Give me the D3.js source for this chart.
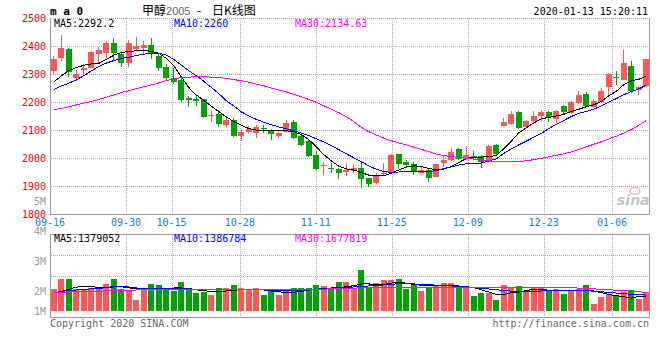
<!DOCTYPE html>
<html>
<head>
<meta charset="utf-8">
<style>
body { margin: 0; background: #fff; }
svg { display: block; }
text { font-family: "DejaVu Sans Mono", monospace; font-size: 10px; }
</style>
</head>
<body>
<svg id="chart" width="660" height="360"></svg>
<script src="https://cdn.jsdelivr.net/npm/d3@7"></script>
<script>
// trading days shown on the chart
const dates = [
  "09-16","09-17","09-18","09-19","09-20","09-23","09-24","09-25","09-26","09-27","09-30",
  "10-08","10-09","10-10","10-11","10-14","10-15","10-16","10-17","10-18","10-21","10-22","10-23","10-24","10-25","10-28","10-29","10-30","10-31",
  "11-01","11-04","11-05","11-06","11-07","11-08","11-11","11-12","11-13","11-14","11-15","11-18","11-19","11-20","11-21","11-22","11-25","11-26","11-27","11-28","11-29",
  "12-02","12-03","12-04","12-05","12-06","12-09","12-10","12-11","12-12","12-13","12-16","12-17","12-18","12-19","12-20","12-23","12-24","12-25","12-26","12-27","12-30","12-31",
  "01-02","01-03","01-06","01-07","01-08","01-09","01-10","01-13"
];

const open = [2312,2358,2391,2284,2313,2322,2373,2375,2409,2370,2338,2391,2393,2403,2366,2324,2286,2280,2213,2212,
  2209,2150,2158,2118,2135,2079,2094,2091,2108,2101,2078,2093,2129,2079,2059,2009,1972,1964,1960,1951,
  1955,1966,1927,1909,1942,1948,2013,1984,1977,1948,1957,1933,1982,1992,2031,1998,2008,2008,1984,2047,
  2116,2123,2163,2110,2131,2149,2163,2139,2185,2161,2196,2230,2182,2200,2252,2291,2279,2327,2244,2256];
const close = [2355,2393,2307,2301,2320,2379,2385,2409,2375,2340,2411,2399,2403,2370,2322,2286,2272,2206,2206,2205,
  2147,2154,2123,2135,2079,2094,2102,2109,2102,2085,2090,2126,2073,2047,2007,1960,1975,1962,1945,1958,
  1966,1925,1907,1941,1946,2010,1979,1976,1952,1956,1929,1977,1992,2023,1996,2010,2004,1984,2043,2014,
  2128,2158,2107,2131,2151,2163,2147,2167,2163,2199,2226,2185,2202,2240,2301,2286,2341,2238,2252,2354];
const high = [2363,2438,2393,2316,2336,2381,2396,2417,2429,2375,2423,2431,2417,2429,2372,2336,2322,2286,2221,2221,
  2212,2168,2173,2150,2144,2103,2115,2118,2118,2103,2099,2135,2135,2085,2064,2026,1984,1981,1966,1981,
  1978,1984,1930,1946,1983,2013,2016,1993,1985,1970,1960,1978,2008,2037,2037,2043,2026,2010,2047,2049,
  2143,2167,2167,2135,2167,2173,2167,2173,2190,2202,2241,2234,2211,2250,2303,2309,2386,2348,2258,2354];
const low = [2296,2348,2289,2275,2298,2320,2336,2358,2346,2324,2324,2384,2370,2352,2310,2277,2263,2201,2182,2184,
  2144,2130,2112,2111,2075,2059,2090,2073,2091,2064,2073,2091,2069,2043,2004,1957,1939,1945,1925,1937,
  1947,1894,1898,1906,1936,1944,1962,1965,1939,1945,1914,1931,1969,1990,1992,1996,1992,1966,1984,2010,
  2113,2119,2104,2106,2123,2131,2128,2125,2155,2158,2194,2182,2178,2196,2220,2262,2277,2232,2226,2253];

const ma5 = [2271,2293,2312,2323,2331,2336,2338,2352,2367,2377,2380,2383,2384,2381,2374,2356,2330,2290,2252,2225,2206,2185,2166,
  2147,2130,2117,2105,2100,2098,2097,2097,2097,2094,2084,2066,2040,2012,1990,1971,1961,1957,1948,1939,1937,1937,1946,1957,1968,1972,1970,1962,1959,
  1960,1970,1984,1998,2003,2003,2005,2009,2033,2060,2090,2108,2125,2140,2145,2150,2156,2166,2174,2183,2190,2202,2222,2238,2262,2276,2281,2292];
const ma10 = [2244,2257,2267,2279,2294,2311,2327,2339,2348,2355,2360,2366,2371,2374,2374,2368,2352,2332,2312,2294,2274,2252,2230,
  2205,2186,2165,2150,2138,2128,2119,2111,2104,2097,2089,2080,2069,2057,2044,2030,2015,2001,1987,1972,1960,1951,1949,1950,1951,1952,1953,1953,1954,
  1962,1968,1975,1979,1980,1982,1989,1997,2016,2032,2047,2060,2074,2088,2105,2120,2134,2148,2160,2166,2174,2186,2200,2212,2226,2237,2247,2260];
const ma30 = [2172,2177,2183,2190,2196,2202,2209,2217,2225,2234,2240,2248,2254,2261,2268,2276,2282,2287,2289,2290,2290,2289,2288,
  2284,2280,2276,2271,2264,2258,2250,2243,2236,2228,2219,2209,2199,2187,2174,2162,2148,2130,2110,2094,2082,2071,2062,2054,2047,2039,2031,2023,2014,2009,2005,2002,1999,1996,1992,1990,1988,
  1987,1986,1987,1990,1994,1999,2004,2009,2015,2022,2031,2040,2049,2058,2068,2078,2089,2101,2117,2134];

// volume, millions
const volume = [1.72,2.53,2.53,1.72,1.70,1.84,1.79,2.11,2.53,1.74,1.66,0.87,1.80,2.11,2.04,1.84,1.58,2.27,1.82,1.40,
  1.50,1.26,1.82,1.82,2.02,1.82,1.70,1.82,1.26,1.66,1.26,1.58,1.82,1.82,1.82,2.03,1.98,1.70,2.29,2.29,
  1.72,3.24,1.82,2.25,2.49,2.49,2.51,1.75,2.04,1.57,1.80,2.04,2.20,2.20,1.84,1.84,1.17,1.41,1.41,0.85,
  2.04,1.84,1.96,1.60,1.88,1.84,1.68,1.70,1.32,1.64,1.72,2.04,0.53,1.12,1.38,1.23,1.54,1.64,0.93,1.48];
const vma5 = [1.42,1.55,1.72,1.88,1.96,1.92,1.87,1.87,1.90,1.92,1.84,1.74,1.70,1.66,1.67,1.70,1.82,1.82,1.74,1.68,
  1.61,1.55,1.53,1.58,1.64,1.68,1.70,1.68,1.66,1.58,1.53,1.45,1.48,1.55,1.65,1.71,1.77,1.75,1.84,1.92,
  2.00,2.14,2.14,2.08,2.11,2.20,2.28,2.20,2.10,2.04,1.98,1.98,2.02,2.04,1.98,1.92,1.85,1.68,1.50,1.32,
  1.30,1.45,1.50,1.62,1.71,1.71,1.64,1.62,1.62,1.66,1.66,1.64,1.58,1.45,1.30,1.22,1.13,1.02,1.15,1.17];
const vma10 = [1.42,1.55,1.61,1.66,1.71,1.75,1.79,1.84,1.95,1.96,1.90,1.82,1.80,1.79,1.79,1.79,1.79,1.79,1.75,1.72,
  1.71,1.71,1.71,1.71,1.71,1.71,1.69,1.68,1.66,1.66,1.66,1.64,1.62,1.61,1.66,1.72,1.77,1.82,1.87,1.87,
  1.90,1.95,1.98,2.02,2.06,2.10,2.17,2.16,2.14,2.10,2.07,2.05,2.00,1.98,1.95,1.92,1.86,1.80,1.74,1.68,
  1.62,1.57,1.53,1.53,1.55,1.58,1.61,1.61,1.64,1.66,1.66,1.62,1.56,1.52,1.47,1.42,1.38,1.32,1.29,1.26];
const vma30 = [1.45,1.47,1.50,1.53,1.53,1.53,1.55,1.60,1.64,1.66,1.66,1.66,1.67,1.68,1.69,1.70,1.71,1.71,1.71,1.71,
  1.71,1.71,1.71,1.71,1.71,1.71,1.71,1.71,1.71,1.71,1.71,1.71,1.71,1.71,1.71,1.71,1.73,1.75,1.77,1.79,
  1.81,1.83,1.85,1.87,1.87,1.87,1.87,1.87,1.87,1.87,1.87,1.87,1.87,1.87,1.87,1.87,1.87,1.87,1.87,1.87,
  1.87,1.87,1.87,1.87,1.87,1.87,1.87,1.87,1.87,1.84,1.81,1.78,1.75,1.71,1.68,1.64,1.61,1.57,1.52,1.48];

const priceTicks = [2500, 2400, 2300, 2200, 2100, 2000, 1900, 1800];
const volTicks = [5, 4, 3, 2, 1];
const dateTicks = ["09-16","09-30","10-15","10-28","11-11","11-25","12-09","12-23","01-06"];
const priceMaText = ["MA5:2292.2", "MA10:2260", "MA30:2134.63"];
const volMaText = ["MA5:1379052", "MA10:1386784", "MA30:1677819"];
const maColors = ["#000000", "#0000ff", "#ff00ff"];

const RED = "#ff5757", GREEN = "#00a300";

const svg = d3.select('#chart');
svg.append('rect').attr('width', 660).attr('height', 360).attr('fill', '#fff');

const idx = d3.range(dates.length);
const x = d3.scaleBand().domain(idx).range([50, 650]).paddingInner(0.2).paddingOuter(0.1);
const xGrid = d3.scalePoint().domain(idx).range([50, 650]);
const yPrice = d3.scaleLinear().domain([1800, 2500]).range([214, 18]);
const yVol = d3.scaleLinear().domain([0, 6]).range([311, 235.1]);
const volGrid = d3.scaleLinear().domain([0, 4]).range([317.5, 234.5]);
const volLabelY = d3.scaleLinear().domain([5, 2]).range([201, 291]);
const cx = i => x(i) + x.bandwidth() / 2;
const crisp = v => Math.round(v) + 0.5;

// grid
const grid = svg.append('g')
  .attr('stroke', '#aaa').attr('stroke-dasharray', '1,1').attr('shape-rendering', 'crispEdges');
grid.selectAll('.hp').data(priceTicks.filter(v => v > 1800)).join('line')
  .attr('x1', 51).attr('x2', 649)
  .attr('y1', d => crisp(yPrice(d))).attr('y2', d => crisp(yPrice(d)));
grid.selectAll('.hv').data([3, 2]).join('line')
  .attr('x1', 51).attr('x2', 649)
  .attr('y1', d => crisp(volGrid(d))).attr('y2', d => crisp(volGrid(d)));
const vx = dateTicks.slice(1).map(d => crisp(xGrid(dates.indexOf(d))));
grid.selectAll('.vp').data(vx).join('line')
  .attr('x1', d => d).attr('x2', d => d).attr('y1', 18).attr('y2', 214);
grid.selectAll('.vv').data(vx).join('line')
  .attr('x1', d => d).attr('x2', d => d).attr('y1', 235).attr('y2', 317);

// borders
const frame = svg.append('g').attr('fill', 'none').attr('stroke', '#999').attr('shape-rendering', 'crispEdges');
frame.append('path').attr('d', 'M50.5,18V214.5H649.5V18');
frame.append('rect').attr('x', 50.5).attr('y', 234.5).attr('width', 599).attr('height', 83);

// candles
const up = i => close[i] >= open[i];
const candles = svg.append('g').attr('shape-rendering', 'crispEdges');
candles.selectAll('line').data(idx).join('line')
  .attr('x1', i => crisp(cx(i) - 0.5)).attr('x2', i => crisp(cx(i) - 0.5))
  .attr('y1', i => yPrice(high[i])).attr('y2', i => yPrice(low[i]))
  .attr('stroke', i => up(i) ? RED : GREEN);
candles.selectAll('rect').data(idx).join('rect')
  .attr('x', i => x(i)).attr('width', x.bandwidth())
  .attr('y', i => yPrice(Math.max(open[i], close[i])))
  .attr('height', i => Math.max(1, Math.abs(yPrice(open[i]) - yPrice(close[i]))))
  .attr('fill', i => up(i) ? RED : GREEN);

// volume bars
svg.append('g').attr('shape-rendering', 'crispEdges')
  .selectAll('rect').data(idx).join('rect')
  .attr('x', i => x(i)).attr('width', x.bandwidth())
  .attr('y', i => yVol(volume[i])).attr('height', i => yVol(0) - yVol(volume[i]))
  .attr('fill', i => up(i) ? RED : GREEN);

// moving averages
const priceLine = d3.line().x((d, i) => cx(i)).y(d => yPrice(d));
const volLine = d3.line().x((d, i) => cx(i)).y(d => yVol(d));
[ma5, ma10, ma30].forEach((s, k) => {
  svg.append('path').attr('d', priceLine(s)).attr('fill', 'none')
    .attr('stroke', maColors[k]).attr('stroke-width', 1).attr('shape-rendering', 'crispEdges');
});
[vma5, vma10, vma30].forEach((s, k) => {
  svg.append('path').attr('d', volLine(s)).attr('fill', 'none')
    .attr('stroke', maColors[k]).attr('stroke-width', 1).attr('shape-rendering', 'crispEdges');
});

// watermark
const wm = svg.append('g');
wm.append('ellipse').attr('cx', 635).attr('cy', 191).attr('rx', 5).attr('ry', 3.5)
  .attr('fill', 'none').attr('stroke', '#f4b4b4').attr('stroke-width', 1.5);
wm.append('text').attr('x', 617).attr('y', 205)
  .style('font-family', '"DejaVu Sans", sans-serif').style('font-size', '14px')
  .style('font-weight', 'bold').style('font-style', 'italic')
  .attr('fill', '#c4c4c4').text('sina');

// axis labels
svg.append('g').selectAll('text').data(priceTicks).join('text')
  .attr('x', 46).attr('y', d => yPrice(d)).attr('dy', '0.35em')
  .attr('text-anchor', 'end').attr('fill', '#ee0000').text(d => d);
svg.append('g').selectAll('text').data(volTicks).join('text')
  .attr('x', 46).attr('y', d => Math.min(volLabelY(d), yVol(0))).attr('dy', '0.35em')
  .attr('text-anchor', 'end').attr('fill', '#999').text(d => d + 'M');
svg.append('g').selectAll('text').data(dateTicks).join('text')
  .attr('x', d => xGrid(dates.indexOf(d))).attr('y', 222).attr('dy', '0.35em')
  .attr('text-anchor', 'middle').attr('fill', '#0a82d6').text(d => d);

// MA legends
const legendX = [54, 174, 295];
priceMaText.forEach((t, k) => svg.append('text').attr('x', legendX[k]).attr('y', 27).attr('fill', maColors[k]).text(t));
volMaText.forEach((t, k) => svg.append('text').attr('x', legendX[k]).attr('y', 242).attr('fill', maColors[k]).text(t));

// header
svg.append('text').attr('x', 50).attr('y', 15)
  .style('font-size', '11px').style('font-weight', 'bold').text('m a 0');
const title = svg.append('text').attr('x', 142).attr('y', 15)
  .style('font-family', '"Noto Sans CJK SC", sans-serif').style('font-size', '12px');
title.append('tspan').attr('fill', '#000').text('甲醇');
title.append('tspan').attr('fill', '#666').style('font-family', '"Liberation Sans", sans-serif').style('font-size', '11px').text('2005');
title.append('tspan').attr('x', 197).attr('fill', '#000').text('-');
title.append('tspan').attr('x', 212).attr('fill', '#000').text('日K线图');
svg.append('text').attr('x', 648).attr('y', 15).attr('text-anchor', 'end').text('2020-01-13 15:20:11');

// footer
svg.append('text').attr('x', 50).attr('y', 327).attr('fill', '#666').text('Copyright 2020 SINA.COM');
svg.append('text').attr('x', 649).attr('y', 327).attr('text-anchor', 'end').attr('fill', '#666').text('http://finance.sina.com.cn');
</script>
</body>
</html>
